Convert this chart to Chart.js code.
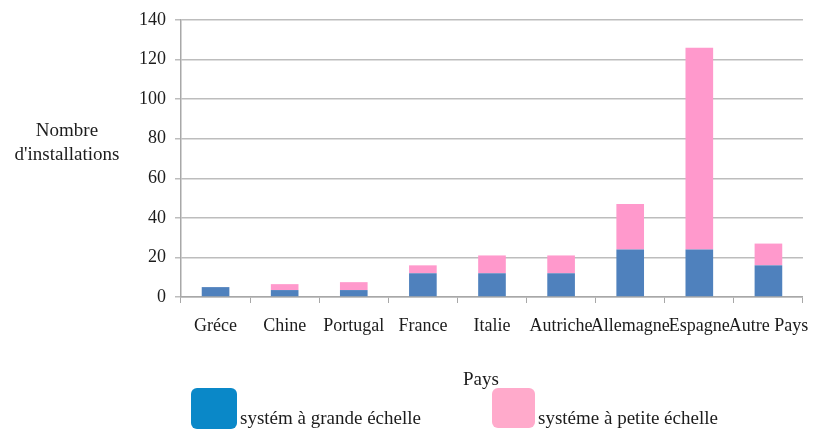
<!DOCTYPE html>
<html>
<head>
<meta charset="utf-8">
<script src="https://cdn.jsdelivr.net/npm/chart.js@4"></script>
<style>
  html, body { margin: 0; padding: 0; background: #ffffff; }
  #wrap { width: 821px; height: 429px; position: relative; }
</style>
</head>
<body>
<div id="wrap"><canvas id="c" width="821" height="429"></canvas></div>
<script>
const categories = ["Gréce", "Chine", "Portugal", "France", "Italie", "Autriche", "Allemagne", "Espagne", "Autre Pays"];
const grandeEchelle = [5, 3.5, 3.5, 12, 12, 12, 24, 24, 16];
const petiteEchelle = [0, 3, 4, 4, 9, 9, 23, 102, 11];
const seriesLabels = ["systém à grande échelle", "systéme à petite échelle"];
const yTicks = [0, 20, 40, 60, 80, 100, 120, 140];
const yTitleLines = ["Nombre", "d'installations"];
const xTitle = "Pays";

const FONT = "'Liberation Serif', 'Times New Roman', serif";
const TEXT = "#1c1c1c";

const overlay = {
  id: 'overlay',
  afterDraw(chart) {
    const ctx = chart.ctx;
    ctx.save();
    ctx.fillStyle = TEXT;
    ctx.font = "19px " + FONT;
    ctx.textAlign = "center";
    ctx.textBaseline = "middle";
    ctx.fillText(yTitleLines[0], 67, 131);
    ctx.fillText(yTitleLines[1], 67, 155);
    ctx.fillText(xTitle, 481, 380);

    const legendColors = ["#0a88c8", "#ffaacb"];
    const boxes = [[191, 388, 46, 41], [492, 388, 43, 40]];
    const textX = [240, 538];
    ctx.textAlign = "left";
    ctx.textBaseline = "alphabetic";
    chart.data.datasets.forEach((ds, i) => {
      const [bx, by, bw, bh] = boxes[i];
      ctx.fillStyle = legendColors[i];
      ctx.beginPath();
      ctx.roundRect(bx, by, bw, bh, 6);
      ctx.fill();
      ctx.fillStyle = TEXT;
      ctx.font = "19px " + FONT;
      ctx.fillText(ds.label, textX[i], 424);
    });
    ctx.restore();
  }
};

new Chart(document.getElementById('c'), {
  type: 'bar',
  data: {
    labels: categories,
    datasets: [
      { label: seriesLabels[0], data: grandeEchelle, backgroundColor: "#4f81bd", barPercentage: 0.4, categoryPercentage: 1.0 },
      { label: seriesLabels[1], data: petiteEchelle, backgroundColor: "#ff99cc", barPercentage: 0.4, categoryPercentage: 1.0 }
    ]
  },
  options: {
    responsive: false,
    animation: false,
    layout: { padding: { top: 20, right: 15, left: 0, bottom: 0 } },
    plugins: { legend: { display: false }, tooltip: { enabled: false } },
    scales: {
      x: {
        stacked: true,
        grid: { drawOnChartArea: false, offset: true, tickLength: 6, color: "#a8a8a8" },
        border: { color: "#a8a8a8", width: 1.5 },
        ticks: { font: { family: FONT, size: 18 }, color: TEXT, padding: 12, maxRotation: 0, minRotation: 0, autoSkip: false },
        afterFit(scale) { scale.height = 132; }
      },
      y: {
        stacked: true,
        min: 0, max: 140,
        afterBuildTicks(scale) { scale.ticks = yTicks.map(v => ({ value: v })); },
        grid: { color: "#bdbdbd", lineWidth: 1.5, tickLength: 6 },
        border: { color: "#a8a8a8", width: 1.5 },
        ticks: { font: { family: FONT, size: 18 }, color: TEXT, padding: 9 },
        afterFit(scale) { scale.width = 181; }
      }
    }
  },
  plugins: [overlay]
});
</script>
</body>
</html>
